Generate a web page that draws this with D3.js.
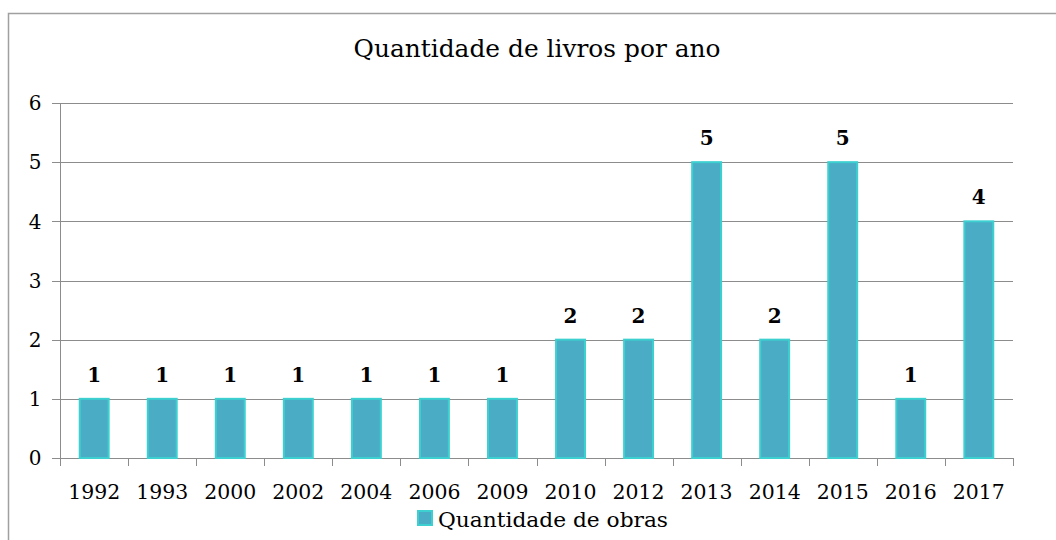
<!DOCTYPE html>
<html>
<head>
<meta charset="utf-8">
<script src="https://cdn.jsdelivr.net/npm/d3@7"></script>
<style>
  body { margin: 0; background: #fff; }
</style>
</head>
<body>
<script>
// dados do gráfico
let anos = ['1992', '1993', '2000', '2002', '2004', '2006', '2009', '2010', '2012', '2013', '2014', '2015', '2016', '2017']
let quantidades = [1, 1, 1, 1, 1, 1, 1, 2, 2, 5, 2, 5, 1, 4]
let yTicks = [0, 1, 2, 3, 4, 5, 6]
let titulo = 'Quantidade de livros por ano'
let serieNome = 'Quantidade de obras'

let width = 1056
let height = 540
let margin = { left: 60, right: 43, top: 103, bottom: 82 }
let fonte = 'DejaVu Serif'

let svg = d3.select('body').append('svg')
  .attr('width', width)
  .attr('height', height)
  .attr('font-family', fonte)

// moldura
svg.append('path')
  .attr('d', 'M8.5,' + (height + 2) + 'V13.5H' + (width + 2))
  .attr('fill', 'none')
  .attr('stroke', '#a0a0a0')
  .attr('stroke-width', 1.5)

let x = d3.scaleBand()
  .domain(anos)
  .range([margin.left, width - margin.right])
  .paddingInner(0.575)
  .paddingOuter(0.29)

let y = d3.scaleLinear()
  .domain([0, 6])
  .range([height - margin.bottom, margin.top])

// linhas de grade
svg.append('g')
  .selectAll('line')
  .data(yTicks)
  .enter()
  .append('line')
  .attr('x1', margin.left - 8)
  .attr('x2', width - margin.right)
  .attr('y1', d => Math.round(y(d)) + 0.5)
  .attr('y2', d => Math.round(y(d)) + 0.5)
  .attr('stroke', '#8c8c8c')

// eixo y
svg.append('line')
  .attr('x1', margin.left + 0.5).attr('x2', margin.left + 0.5)
  .attr('y1', y(6)).attr('y2', y(0) + 8)
  .attr('stroke', '#8c8c8c')

svg.append('g')
  .selectAll('text')
  .data(yTicks)
  .enter()
  .append('text')
  .attr('x', 35)
  .attr('y', d => y(d))
  .attr('dy', '0.36em')
  .attr('text-anchor', 'middle')
  .attr('font-size', 20)
  .text(d => d)

// marcas do eixo x
let bordas = d3.range(anos.length + 1).map(i => margin.left + i * (width - margin.left - margin.right) / anos.length)
svg.append('g')
  .selectAll('line')
  .data(bordas)
  .enter()
  .append('line')
  .attr('x1', d => Math.round(d) + 0.5)
  .attr('x2', d => Math.round(d) + 0.5)
  .attr('y1', y(0))
  .attr('y2', y(0) + 8)
  .attr('stroke', '#8c8c8c')

// barras
svg.append('g')
  .selectAll('rect')
  .data(quantidades)
  .enter()
  .append('rect')
  .attr('x', (d, i) => x(anos[i]))
  .attr('y', d => y(d))
  .attr('width', x.bandwidth())
  .attr('height', d => y(0) - y(d))
  .attr('fill', '#4bacc6')
  .attr('stroke', '#3cd0d0')
  .attr('stroke-width', 2)

// rótulos das barras
svg.append('g')
  .selectAll('text')
  .data(quantidades)
  .enter()
  .append('text')
  .attr('x', (d, i) => x(anos[i]) + x.bandwidth() / 2)
  .attr('y', d => y(d) - 17)
  .attr('text-anchor', 'middle')
  .attr('font-size', 20)
  .attr('font-weight', 'bold')
  .text(d => d)

// rótulos do eixo x
svg.append('g')
  .selectAll('text')
  .data(anos)
  .enter()
  .append('text')
  .attr('x', d => x(d) + x.bandwidth() / 2)
  .attr('y', 499)
  .attr('text-anchor', 'middle')
  .attr('font-size', 20)
  .attr('textLength', 52)
  .attr('lengthAdjust', 'spacingAndGlyphs')
  .text(d => d)

// título
svg.append('text')
  .attr('x', 537)
  .attr('y', 57)
  .attr('text-anchor', 'middle')
  .attr('font-size', 24.5)
  .attr('textLength', 367)
  .attr('lengthAdjust', 'spacingAndGlyphs')
  .text(titulo)

// legenda
svg.append('rect')
  .attr('x', 418)
  .attr('y', 511)
  .attr('width', 14)
  .attr('height', 14)
  .attr('fill', '#4bacc6')
  .attr('stroke', '#3cd0d0')
  .attr('stroke-width', 2)
svg.append('text')
  .attr('x', 438)
  .attr('y', 527)
  .attr('font-size', 20)
  .attr('textLength', 230)
  .attr('lengthAdjust', 'spacingAndGlyphs')
  .text(serieNome)
</script>
</body>
</html>
